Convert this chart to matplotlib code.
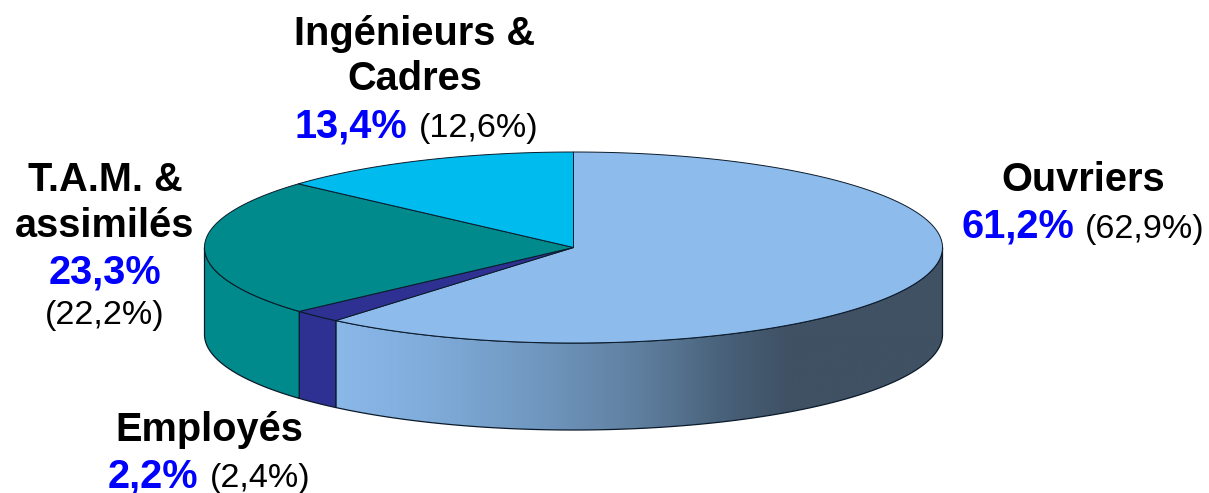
import numpy as np
import matplotlib
matplotlib.use('Agg')
import matplotlib.pyplot as plt
from matplotlib.colors import LinearSegmentedColormap
from matplotlib.patches import Polygon

plt.rcParams['font.family'] = ['Liberation Sans', 'DejaVu Sans']

categories = ['Ouvriers', 'Employés', 'T.A.M. & assimilés', 'Ingénieurs & Cadres']
shares = [61.2, 2.2, 23.3, 13.4]
previous = ['(62,9%)', '(2,4%)', '(22,2%)', '(12,6%)']
current = ['61,2%', '2,2%', '23,3%', '13,4%']
top_colors = ['#8DBBEB', '#2E3192', '#008A8C', '#00BBEE']
side_colors = ['#8DBBEB', '#2E3192', '#008A8C', '#00BBEE']

cx, cy = 573.5, 247.5
rx, ry = 369, 95.5
depth = 87
edge = '#0B1A2A'


def arc(a0, a1):
    t = np.linspace(a0, a1, 200)
    return cx + rx * np.cos(t), cy - ry * np.sin(t)


fig = plt.figure(figsize=(12.09, 4.93), dpi=100)
ax = fig.add_axes([0, 0, 1, 1])
ax.set_xlim(0, 1209)
ax.set_ylim(493, 0)
ax.axis('off')

# angles go clockwise from the top, like the original
fractions = np.cumsum([0] + shares) / sum(shares)
angles = np.pi / 2 - 2 * np.pi * fractions

gradient = LinearSegmentedColormap.from_list(
    'side', [(0, '#8AB8E8'), (0.15, '#80ACDB'), (0.35, '#6E95BC'), (0.5, '#5F7F9F'),
             (0.65, '#475F77'), (0.75, '#3F5163'), (1, '#3F5163')])

# side walls, only the part facing the viewer
for i in range(len(shares)):
    # lower half of the ellipse runs from 0 to -pi
    start = min(angles[i], 0)
    stop = max(angles[i + 1], -np.pi)
    if start <= stop:
        continue
    x, y = arc(start, stop)
    pts = np.column_stack([np.r_[x, x[::-1]], np.r_[y, y[::-1] + depth]])
    if i == 0:
        poly = Polygon(pts, closed=True, facecolor='none', edgecolor='none')
        ax.add_patch(poly)
        im = ax.imshow(np.linspace(0, 1, 256).reshape(1, -1), cmap=gradient,
                       extent=[x.min(), x.max(), y.max() + depth, y.min()],
                       aspect='auto', zorder=1)
        im.set_clip_path(poly)
        ax.set_xlim(0, 1209)
        ax.set_ylim(493, 0)
        ax.add_patch(Polygon(pts, closed=True, facecolor='none', edgecolor=edge,
                             linewidth=0.9, zorder=2))
    else:
        ax.add_patch(Polygon(pts, closed=True, facecolor=side_colors[i], edgecolor=edge,
                             linewidth=0.9, zorder=2))

# top of the pie
for i in range(len(shares)):
    x, y = arc(angles[i], angles[i + 1])
    pts = np.column_stack([np.r_[cx, x], np.r_[cy, y]])
    ax.add_patch(Polygon(pts, closed=True, facecolor=top_colors[i], edgecolor=edge,
                         linewidth=0.7, zorder=3))

big = 28.6
small = 24.6

ax.text(1083, 191, 'Ouvriers', fontsize=big, fontweight='bold', ha='center', va='baseline')
ax.text(1074, 238, current[0], fontsize=big, fontweight='bold', color='#0000FF', ha='right', va='baseline')
ax.text(1085, 238, previous[0], fontsize=small, ha='left', va='baseline')

ax.text(209, 441, 'Employés', fontsize=big, fontweight='bold', ha='center', va='baseline')
ax.text(198, 487, current[1], fontsize=big, fontweight='bold', color='#0000FF', ha='right', va='baseline')
ax.text(210, 487, previous[1], fontsize=small, ha='left', va='baseline')

ax.text(105, 191, 'T.A.M. &', fontsize=big, fontweight='bold', ha='center', va='baseline')
ax.text(105, 237, 'assimilés', fontsize=big, fontweight='bold', ha='center', va='baseline')
ax.text(105, 284, current[2], fontsize=big, fontweight='bold', color='#0000FF', ha='center', va='baseline')
ax.text(105, 324, previous[2], fontsize=small, ha='center', va='baseline')

ax.text(415, 45, 'Ingénieurs &', fontsize=big, fontweight='bold', ha='center', va='baseline')
ax.text(415, 90, 'Cadres', fontsize=big, fontweight='bold', ha='center', va='baseline')
ax.text(407, 137, current[3], fontsize=big, fontweight='bold', color='#0000FF', ha='right', va='baseline')
ax.text(419, 137, previous[3], fontsize=small, ha='left', va='baseline')

fig.savefig('out.png', dpi=100)
